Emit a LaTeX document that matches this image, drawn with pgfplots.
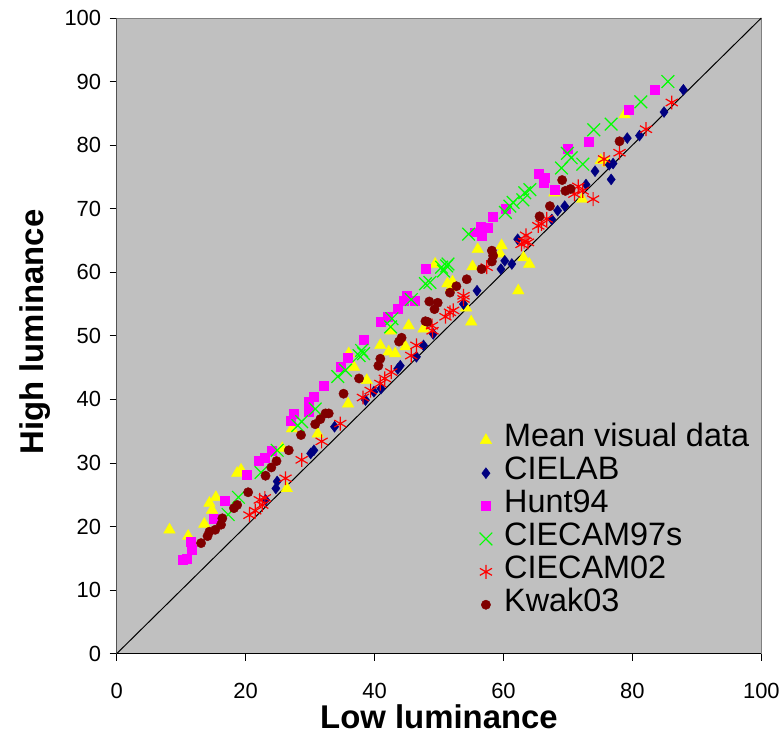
\documentclass[border=0pt]{standalone}
\usepackage{fontspec}
\setmainfont{Liberation Sans}
\usepackage{pgfplots}
\pgfplotsset{compat=1.18}
\definecolor{plotbg}{HTML}{C0C0C0}
\definecolor{frame}{HTML}{808080}
\definecolor{cielab}{HTML}{000080}
\definecolor{hunt}{HTML}{FF00FF}
\definecolor{cam97}{HTML}{00FF00}
\definecolor{cam02}{HTML}{FF0000}
\definecolor{kwak}{HTML}{800000}
\definecolor{mean}{HTML}{FFFF00}

\begin{document}
\begin{tikzpicture}
\begin{axis}[
    width=647pt, height=638pt, scale only axis,
    xmin=0, xmax=100, ymin=0, ymax=100,
    xtick={0,20,...,100}, ytick={0,10,...,100},
    tick align=outside, tick pos=left,
    major tick length=7pt,
    tick style={black, line width=0.8pt},
    axis line style={draw=frame, line width=0.8pt},
    axis background/.style={fill=plotbg},
    /pgf/number format/assume math mode=true,
    ticklabel style={font=\fontsize{22}{26}\selectfont},
    xticklabel style={yshift=-19pt},
    yticklabel style={xshift=-5pt},
    xlabel={Low luminance},
    ylabel={High luminance},
    label style={font=\fontsize{33}{36}\selectfont\bfseries},
    xlabel style={at={(axis description cs:0.5,-0.1176)}, anchor=base,
        inner sep=0pt, text depth=0pt},
    ylabel style={at={(axis description cs:-0.114,0.506)}, anchor=base},
    legend style={draw=none, fill=none, at={(0.558,0.365)}, anchor=north west,
        font=\fontsize{32.5}{33}\selectfont, row sep=0pt,
        nodes={inner sep=1pt, text height=22pt, text depth=9pt},
        /tikz/every odd column/.append style={column sep=11pt}},
    legend cell align=left,
]
\addplot[black, line width=1pt, forget plot] coordinates {(0,0) (100,100)};

% Mean visual data
\addplot[only marks, mark=triangle*, mark size=6.7pt, color=mean] coordinates {
(8.2,19.5) (11.1,18.5) (13.6,20.4) (14.4,23.7) (15.4,24.6) (14.8,22.6)
(19.3,28.9) (18.7,28.4) (26.4,26.0) (25.7,32.3) (27.2,35.4) (31.2,34.6)
(35.9,39.3) (36.0,47.2) (36.8,45.1) (38.8,43.0) (40.9,48.5) (42.2,47.5)
(43.2,47.2) (42.5,50.8) (44.8,48.3) (45.3,51.6) (47.6,51.1) (49.4,61.3)
(51.3,58.2) (52.1,58.5) (51.9,57.6) (55.2,60.9) (56.0,63.6) (59.7,64.2)
(59.5,62.9) (63.1,62.3) (64.0,61.3) (62.3,57.1) (55.0,52.2) (54.2,54.4)
(67.9,72.5) (72.2,71.5) (75.1,77.6) (76.2,77.2) (78.8,84.8)
};
\addlegendentry{Mean visual data}

% CIELAB
\addplot[only marks, mark=diamond*, mark size=5.5pt, color=cielab] coordinates {
(23.1,24.2) (24.7,26.0) (24.9,27.1) (30.1,31.5) (30.6,32.0) (33.8,35.7)
(38.6,39.9) (39.9,41.2) (41.0,41.7) (43.6,44.8) (44.0,45.3) (46.5,46.7)
(47.6,48.5) (49.1,50.3) (53.8,55.0) (55.9,57.1) (59.6,60.5) (60.2,61.8)
(61.3,61.3) (62.2,65.2) (67.5,68.3) (68.4,69.7) (69.5,70.4) (72.8,73.8)
(74.2,75.9) (76.4,76.9) (76.7,74.6) (77.0,77.1) (79.2,81.1) (81.1,81.5)
(84.9,85.2) (87.9,88.7)
};
\addlegendentry{CIELAB}

% Hunt94
\addplot[only marks, mark=square*, mark size=4.5pt, color=hunt] coordinates {
(10.2,14.8) (10.8,15.0) (11.7,16.4) (11.5,17.6) (15.1,21.3) (16.8,24.0)
(20.2,28.1) (22.0,30.3) (22.9,30.9) (24.1,32.0) (27.0,36.7) (27.5,37.7)
(29.8,39.6) (29.8,38.1) (30.6,40.4) (32.1,42.2) (34.7,45.1) (35.9,46.5)
(38.3,49.4) (40.9,52.3) (42.0,53.0) (43.6,54.2) (44.5,55.6) (45.0,56.3)
(46.3,55.6) (48.0,60.5) (55.6,66.3) (56.4,67.2) (56.6,65.8) (57.5,67.0)
(58.3,68.8) (60.3,70.0) (65.5,75.5) (66.4,74.8) (66.3,74.1) (67.9,73.0)
(69.9,79.4) (73.2,80.6) (79.4,85.5) (83.5,88.7)
};
\addlegendentry{Hunt94}

% CIECAM97s
\addplot[only marks, mark=x, mark size=9pt, line width=1.2pt, color=cam97] coordinates {
(17.3,21.9) (18.9,24.6) (22.4,28.5) (24.9,32.0) (28.1,35.9) (28.7,36.5)
(30.8,38.5) (34.3,43.6) (35.5,44.6) (37.6,46.9) (38.0,47.7) (38.3,47.2)
(42.5,51.4) (42.7,52.7) (45.7,55.7) (47.9,58.2) (48.6,58.4) (50.4,60.8)
(50.7,60.2) (51.2,61.0) (51.4,61.3) (54.6,66.0) (60.3,69.4) (61.0,70.4)
(61.5,71.0) (63.0,71.4) (63.3,72.5) (64.1,73.0) (69.0,76.4) (70.5,78.0)
(69.9,78.7) (72.3,77.0) (74.0,82.4) (76.7,83.3) (81.3,86.8) (85.5,90.0)
};
\addlegendentry{CIECAM97s}

% CIECAM02
\addplot[only marks, mark=asterisk, mark size=7pt, line width=1.2pt, color=cam02] coordinates {
(20.6,21.8) (21.5,22.5) (22.2,24.2) (22.6,23.4) (23.0,24.5) (26.2,27.6)
(28.7,30.5) (31.8,33.4) (34.7,36.2) (38.2,40.3) (39.4,41.4) (40.9,42.5)
(41.6,43.3) (42.6,44.3) (45.7,46.9) (46.5,48.5) (48.9,51.6) (49.0,50.8)
(51.0,53.0) (51.7,53.7) (52.2,54.0) (53.8,55.8) (53.8,56.3) (57.4,60.8)
(62.8,64.4) (63.2,64.8) (63.8,64.7) (63.5,65.8) (65.4,67.3) (65.9,67.6)
(66.7,68.4) (71.0,72.3) (71.6,73.5) (72.3,72.8) (73.9,71.5) (75.6,77.8)
(78.0,78.8) (82.1,82.5) (86.1,86.7)
};
\addlegendentry{CIECAM02}

% Kwak03
\addplot[only marks, mark=*, mark size=4.7pt, color=kwak] coordinates {
(13.1,17.4) (14.1,18.5) (14.4,19.2) (15.3,19.5) (16.2,20.3) (16.4,21.3)
(18.2,22.9) (18.7,23.4) (20.4,25.4) (23.1,28.0) (24.0,29.3) (24.8,30.3)
(26.7,32.0) (28.6,34.4) (30.8,36.1) (31.6,36.9) (32.4,37.8) (32.9,37.8)
(35.2,40.9) (37.6,43.3) (40.6,45.3) (40.9,46.4) (43.8,49.1) (44.2,49.7)
(47.9,52.3) (48.2,52.2) (48.5,55.4) (49.3,54.2) (49.8,55.2) (51.7,56.8)
(52.7,57.8) (54.3,58.9) (56.6,60.5) (58.2,61.7) (58.4,62.6) (58.2,63.4)
(65.6,68.8) (67.2,70.4) (69.1,74.5) (69.6,72.8) (70.4,73.1) (78.0,80.6)
};
\addlegendentry{Kwak03}

\draw[black, line width=1pt] (rel axis cs:0,1) -- (rel axis cs:0,0) -- (rel axis cs:1,0);
\end{axis}
\path (current axis.south west) ++(-117pt,-77pt);
\path (current axis.north east) ++(19pt,18pt);
\end{tikzpicture}
\end{document}
